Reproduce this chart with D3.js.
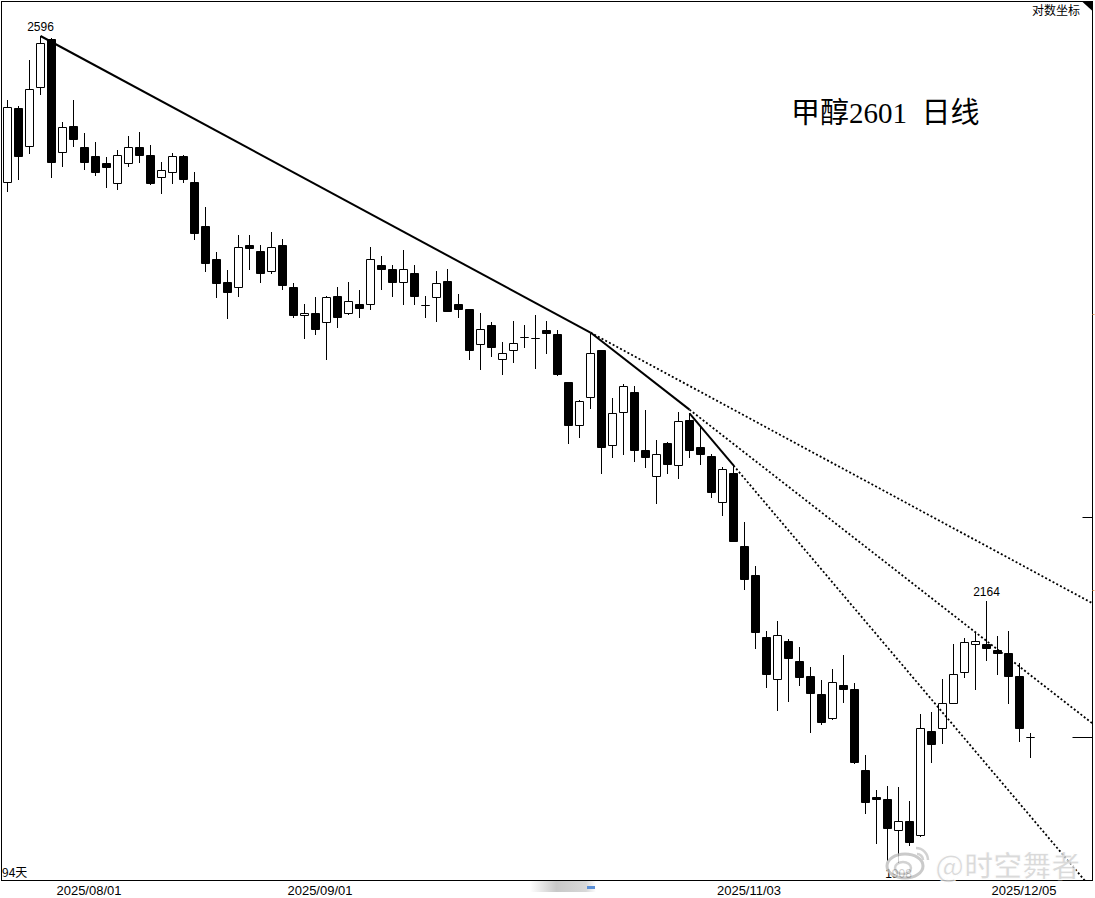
<!DOCTYPE html>
<html>
<head>
<meta charset="utf-8">
<script src="https://cdn.jsdelivr.net/npm/d3@7"></script>
<style>
  body { margin: 0; background: #fff; }
  svg { display: block; }
</style>
</head>
<body>
<svg id="chart"></svg>
<script>
const width = 1095;
const height = 898;

// daily bars, [open, high, low, close]
const ohlc = [
    [2496, 2553, 2489, 2548], [2547, 2549, 2498, 2514], [2521, 2580, 2516, 2560], [2562, 2596, 2557, 2591],
    [2594, 2595, 2499, 2510], [2517, 2538, 2507, 2534], [2535, 2553, 2521, 2526], [2520, 2530, 2505, 2510],
    [2514, 2524, 2501, 2503], [2509, 2513, 2492, 2506], [2495, 2518, 2491, 2515], [2509, 2528, 2507, 2520],
    [2520, 2531, 2510, 2515], [2515, 2522, 2494, 2495], [2499, 2510, 2488, 2504], [2503, 2516, 2495, 2514],
    [2514, 2515, 2496, 2498], [2496, 2503, 2455, 2459], [2464, 2478, 2431, 2437], [2440, 2445, 2412, 2422],
    [2423, 2432, 2396, 2416], [2419, 2458, 2413, 2449], [2450, 2458, 2433, 2448], [2446, 2450, 2423, 2430],
    [2431, 2460, 2430, 2449], [2450, 2455, 2418, 2421], [2419, 2422, 2397, 2398], [2398, 2407, 2381, 2400],
    [2400, 2412, 2384, 2388], [2393, 2413, 2365, 2412], [2413, 2419, 2389, 2397], [2400, 2423, 2399, 2409],
    [2407, 2417, 2397, 2404], [2407, 2449, 2403, 2440], [2436, 2442, 2418, 2433], [2433, 2436, 2413, 2423],
    [2423, 2447, 2407, 2433], [2430, 2436, 2407, 2413], [2406, 2413, 2397, 2406], [2412, 2431, 2394, 2422],
    [2424, 2433, 2401, 2401], [2407, 2414, 2397, 2403], [2403, 2403, 2365, 2372], [2376, 2400, 2357, 2388],
    [2391, 2393, 2367, 2374], [2365, 2378, 2353, 2369], [2372, 2394, 2362, 2377], [2382, 2391, 2374, 2382],
    [2381, 2398, 2358, 2381], [2387, 2394, 2369, 2385], [2384, 2387, 2352, 2353], [2347, 2347, 2298, 2313],
    [2313, 2333, 2303, 2332], [2335, 2385, 2326, 2369], [2372, 2372, 2274, 2295], [2297, 2334, 2287, 2322],
    [2323, 2345, 2289, 2344], [2339, 2344, 2284, 2293], [2293, 2325, 2279, 2287], [2271, 2301, 2249, 2289],
    [2298, 2299, 2274, 2281], [2280, 2323, 2270, 2316], [2317, 2322, 2287, 2293], [2295, 2311, 2281, 2289],
    [2288, 2289, 2254, 2258], [2250, 2279, 2239, 2277], [2274, 2280, 2217, 2217], [2212, 2233, 2175, 2184],
    [2187, 2195, 2122, 2136], [2132, 2137, 2085, 2098], [2093, 2146, 2063, 2134], [2128, 2130, 2072, 2112],
    [2110, 2123, 2087, 2095], [2096, 2104, 2042, 2080], [2079, 2092, 2050, 2052], [2056, 2102, 2055, 2090],
    [2087, 2115, 2071, 2083], [2083, 2089, 2011, 2012], [2004, 2019, 1960, 1972], [1977, 1984, 1929, 1975],
    [1975, 1988, 1910, 1945], [1942, 1987, 1908, 1952], [1952, 1973, 1926, 1930], [1937, 2060, 1936, 2046],
    [2043, 2061, 2012, 2030], [2046, 2093, 2031, 2070], [2070, 2125, 2070, 2098], [2099, 2131, 2095, 2127],
    [2125, 2135, 2083, 2128], [2125, 2164, 2111, 2122], [2120, 2133, 2098, 2117], [2117, 2137, 2070, 2096],
    [2096, 2108, 2033, 2046], [2037, 2041, 2017, 2037]
];

const xTickLabels = ["2025/08/01", "2025/09/01", "2025/11/03", "2025/12/05"];
const xTickIdx = [7, 28, 67, 92];

// trend lines: [index1, price1, index2, price2], solid between, dotted beyond
const trendLines = [
    [3, 2596, 53, 2385],
    [53, 2385, 62, 2325],
    [62, 2322, 66, 2280]
];

const extremeIdx = [3, 89, 81];
const extremeVal = [2596, 2164, 1908];
const extremeSide = ["top", "top", "bottom"];

const axisMarks = [2237, 2037];
const axisMarkLen = [10, 20];
const orangeMarks = [2399, 2174];

const title = "甲醇2601  日线";
const scaleLabel = "对数坐标";
const daysLabel = "94天";
const watermark = "@时空舞者";

const svg = d3.select("#chart")
    .attr("width", width)
    .attr("height", height)
    .attr("viewBox", `0 0 ${width} ${height}`);

const frame = { left: 1.5, top: 1.5, right: 1092.5, bottom: 880.5 };

const x = d3.scaleLinear().domain([0, ohlc.length - 1]).range([7, 7 + 11 * (ohlc.length - 1)]);
const y = d3.scalePow().exponent(2.6).domain([1908, 2596]).range([862, 36]);

const defs = svg.append("defs");
defs.append("clipPath").attr("id", "plot-clip")
    .append("rect")
    .attr("x", frame.left)
    .attr("y", frame.top)
    .attr("width", frame.right - frame.left)
    .attr("height", frame.bottom - frame.top);

const grad = defs.append("linearGradient").attr("id", "bar-grad");
grad.append("stop").attr("offset", "0%").attr("stop-color", "#fff");
grad.append("stop").attr("offset", "40%").attr("stop-color", "#c8c8c8");
grad.append("stop").attr("offset", "85%").attr("stop-color", "#d8d8d8");
grad.append("stop").attr("offset", "100%").attr("stop-color", "#fff");

// frame
svg.append("rect")
    .attr("x", frame.left)
    .attr("y", frame.top)
    .attr("width", frame.right - frame.left)
    .attr("height", frame.bottom - frame.top)
    .attr("fill", "#fff")
    .attr("stroke", "#000")
    .attr("stroke-width", 1);

const plot = svg.append("g").attr("clip-path", "url(#plot-clip)");

// candles
const cx = i => Math.round(x(i));
const candles = plot.selectAll(".candle")
    .data(ohlc)
    .enter()
    .append("g")
    .attr("class", "candle");

candles.append("line")
    .attr("x1", (d, i) => cx(i) + 0.5)
    .attr("x2", (d, i) => cx(i) + 0.5)
    .attr("y1", d => Math.round(y(d[1])))
    .attr("y2", d => Math.round(y(d[2])) + 1)
    .attr("stroke", "#000")
    .attr("stroke-width", 1);

// body as a path so a flat (open == close) bar still shows as a dash
candles.append("path")
    .attr("d", (d, i) => {
        const top = Math.round(y(Math.max(d[0], d[3]))) + 0.5;
        const h = Math.round(y(Math.min(d[0], d[3]))) - Math.round(y(Math.max(d[0], d[3])));
        const left = cx(i) - 3.5;
        return `M${left},${top}h8v${h}h-8Z`;
    })
    .attr("fill", d => d[3] < d[0] ? "#000" : "#fff")
    .attr("stroke", "#000")
    .attr("stroke-width", 1);

// trend lines
trendLines.forEach(([i1, v1, i2, v2]) => {
    const x1 = x(i1) + 0.5, y1 = y(v1);
    const x2 = x(i2) + 0.5, y2 = y(v2);
    const slope = (y2 - y1) / (x2 - x1);
    const xe = 1110, ye = y2 + (xe - x2) * slope;

    plot.append("line")
        .attr("x1", x1).attr("y1", y1)
        .attr("x2", x2).attr("y2", y2)
        .attr("stroke", "#000")
        .attr("stroke-width", 2);

    plot.append("line")
        .attr("x1", x2).attr("y1", y2)
        .attr("x2", xe).attr("y2", ye)
        .attr("stroke", "#000")
        .attr("stroke-width", 1.8)
        .attr("stroke-dasharray", "2,2.2");
});

// extreme value labels
extremeIdx.forEach((idx, k) => {
    const d = ohlc[idx];
    const top = extremeSide[k] === "top";
    svg.append("text")
        .attr("x", cx(idx) + 0.5)
        .attr("y", top ? y(d[1]) - 5 : y(d[2]) + 16)
        .attr("text-anchor", "middle")
        .attr("font-family", "Liberation Sans, Arial, sans-serif")
        .attr("font-size", 12)
        .attr("fill", "#000")
        .text(extremeVal[k]);
});

// marks on the right edge
axisMarks.forEach((v, k) => {
    svg.append("line")
        .attr("x1", frame.right - axisMarkLen[k])
        .attr("x2", frame.right)
        .attr("y1", Math.round(y(v)) + 0.5)
        .attr("y2", Math.round(y(v)) + 0.5)
        .attr("stroke", "#000")
        .attr("stroke-width", 1);
});
orangeMarks.forEach(v => {
    svg.append("line")
        .attr("x1", frame.right)
        .attr("x2", frame.right + 2)
        .attr("y1", Math.round(y(v)) + 0.5)
        .attr("y2", Math.round(y(v)) + 0.5)
        .attr("stroke", "#f0a060")
        .attr("stroke-width", 1);
});

// date labels
svg.selectAll(".date-label")
    .data(xTickLabels)
    .enter()
    .append("text")
    .attr("class", "date-label")
    .attr("x", (d, k) => cx(xTickIdx[k]) + 5)
    .attr("y", 895)
    .attr("text-anchor", "middle")
    .attr("font-family", "Liberation Sans, Arial, sans-serif")
    .attr("font-size", 13)
    .attr("fill", "#000")
    .text(d => d);

// title
svg.append("text")
    .attr("x", 791)
    .attr("y", 123)
    .attr("font-family", "'Liberation Serif', 'Noto Sans CJK SC', serif")
    .attr("font-size", 29)
    .attr("fill", "#000")
    .attr("xml:space", "preserve")
    .style("white-space", "pre")
    .text(title);

svg.append("text")
    .attr("x", 1080)
    .attr("y", 15)
    .attr("text-anchor", "end")
    .attr("font-family", "'Noto Sans CJK SC', sans-serif")
    .attr("font-size", 12)
    .attr("fill", "#000")
    .text(scaleLabel);

svg.append("path")
    .attr("d", `M1082,${frame.top}L${frame.right},${frame.top}L${frame.right},11Z`)
    .attr("fill", "#000");

svg.append("text")
    .attr("x", 2)
    .attr("y", 877)
    .attr("font-family", "'Noto Sans CJK SC', sans-serif")
    .attr("font-size", 12)
    .attr("fill", "#000")
    .text(daysLabel);

// scroll bar remnant under the axis
svg.append("rect")
    .attr("x", 530)
    .attr("y", 881)
    .attr("width", 66)
    .attr("height", 11)
    .attr("fill", "url(#bar-grad)");
svg.append("rect")
    .attr("x", 587)
    .attr("y", 886)
    .attr("width", 8)
    .attr("height", 3)
    .attr("fill", "#5b8fd6");

// watermark
const wm = svg.append("g").attr("opacity", 0.8);
wm.append("ellipse")
    .attr("cx", 905).attr("cy", 866)
    .attr("rx", 18).attr("ry", 12)
    .attr("fill", "#fff")
    .attr("stroke", "#bdbdbd")
    .attr("stroke-width", 3);
wm.append("ellipse")
    .attr("cx", 903).attr("cy", 868)
    .attr("rx", 8).attr("ry", 6)
    .attr("fill", "none")
    .attr("stroke", "#c8c8c8")
    .attr("stroke-width", 2.5);
wm.append("path")
    .attr("d", "M916,848 A12,12 0 0 1 928,860 M917,854 A6,6 0 0 1 923,860")
    .attr("fill", "none")
    .attr("stroke", "#c8c8c8")
    .attr("stroke-width", 2.5);
wm.append("text")
    .attr("x", 935)
    .attr("y", 877)
    .attr("font-family", "'Noto Sans CJK SC', sans-serif")
    .attr("font-weight", "bold")
    .attr("font-size", 29)
    .attr("fill", "#d2d2d2")
    .attr("stroke", "#ffffff")
    .attr("stroke-width", 1)
    .text(watermark);
</script>
</body>
</html>
